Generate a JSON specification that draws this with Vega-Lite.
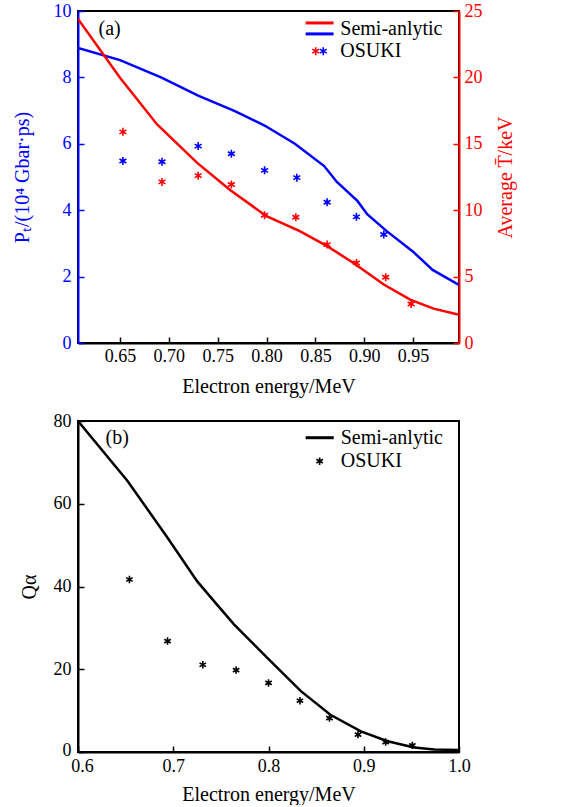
{
  "$schema": "https://vega.github.io/schema/vega-lite/v6.json",
  "padding": {"left": 11, "top": 1, "right": 5, "bottom": 0},
  "config": {
    "font": "Liberation Serif",
    "view": {"stroke": "black", "strokeWidth": 2},
    "axis": {"grid": false, "labelFlush": false, "labelFontSize": 18, "titleFontSize": 20, "titleFontWeight": "normal", "labelColor": "black", "titleColor": "black", "domainColor": "black", "domainWidth": 2, "tickColor": "black", "tickWidth": 1.5, "tickSize": -6, "labelFont": "Liberation Serif", "titleFont": "Liberation Serif"},
    "text": {"font": "Liberation Serif", "fontSize": 20}
  },
  "datasets": {
    "pt_line": [{"e":0.607,"v":8.89},{"e":0.65,"v":8.52},{"e":0.692,"v":8.0},{"e":0.73,"v":7.45},{"e":0.767,"v":6.99},{"e":0.798,"v":6.55},{"e":0.829,"v":6.0},{"e":0.859,"v":5.33},{"e":0.872,"v":4.85},{"e":0.893,"v":4.28},{"e":0.903,"v":3.88},{"e":0.923,"v":3.37},{"e":0.95,"v":2.75},{"e":0.97,"v":2.2},{"e":0.997,"v":1.75}],
    "pt_sim": [{"e":0.653,"v":5.48},{"e":0.693,"v":5.46},{"e":0.73,"v":5.93},{"e":0.764,"v":5.7},{"e":0.798,"v":5.2},{"e":0.831,"v":4.98},{"e":0.862,"v":4.24},{"e":0.892,"v":3.8},{"e":0.92,"v":3.27}],
    "t_line": [{"e":0.607,"v":24.4},{"e":0.65,"v":19.97},{"e":0.688,"v":16.46},{"e":0.729,"v":13.56},{"e":0.763,"v":11.5},{"e":0.8,"v":9.55},{"e":0.834,"v":8.42},{"e":0.862,"v":7.29},{"e":0.889,"v":6.03},{"e":0.92,"v":4.4},{"e":0.947,"v":3.27},{"e":0.971,"v":2.59},{"e":0.996,"v":2.14}],
    "t_sim": [{"e":0.653,"v":15.9},{"e":0.693,"v":12.13},{"e":0.73,"v":12.6},{"e":0.764,"v":11.94},{"e":0.798,"v":9.62},{"e":0.83,"v":9.47},{"e":0.862,"v":7.41},{"e":0.892,"v":6.03},{"e":0.922,"v":4.95},{"e":0.948,"v":2.94}],
    "q_line": [{"e":0.6,"v":80},{"e":0.652,"v":65.5},{"e":0.694,"v":51.8},{"e":0.725,"v":41.3},{"e":0.743,"v":36.4},{"e":0.764,"v":30.8},{"e":0.799,"v":22.7},{"e":0.834,"v":14.7},{"e":0.865,"v":9.0},{"e":0.897,"v":5.0},{"e":0.925,"v":2.6},{"e":0.953,"v":1.1},{"e":0.974,"v":0.6},{"e":1.0,"v":0.5}],
    "q_sim": [{"e":0.654,"v":41.7},{"e":0.694,"v":26.8},{"e":0.731,"v":21.1},{"e":0.766,"v":19.8},{"e":0.8,"v":16.7},{"e":0.833,"v":12.4},{"e":0.864,"v":8.2},{"e":0.894,"v":4.2},{"e":0.923,"v":2.4},{"e":0.951,"v":1.6}],
    "a_leg_red": [{"e":0.84,"e2":0.8686,"v":9.64}],
    "a_leg_blue": [{"e":0.84,"e2":0.8686,"v":9.31}],
    "a_star_red": [{"e":0.8503,"v":8.79}],
    "a_star_blue": [{"e":0.858,"v":8.79}],
    "a_text": [{"e":0.8755,"v":9.47,"t":"Semi-anlytic"},{"e":0.8755,"v":8.79,"t":"OSUKI"},{"e":0.628,"v":9.46,"t":"(a)"}],
    "b_leg": [{"e":0.839,"e2":0.8685,"v":75.96}],
    "b_star": [{"e":0.8537,"v":70.3}],
    "b_text": [{"e":0.8758,"v":75.96,"t":"Semi-anlytic"},{"e":0.8758,"v":70.3,"t":"OSUKI"},{"e":0.629,"v":75.8,"t":"(b)"}]
  },
  "spacing": 78,
  "bounds": "flush",
  "vconcat": [
    {
      "width": 381,
      "height": 332,
      "encoding": {
        "x": {"field": "e", "type": "quantitative", "scale": {"domain": [0.607, 0.997], "nice": false, "zero": false},
              "axis": {"values": [0.65, 0.7, 0.75, 0.8, 0.85, 0.9, 0.95], "format": ".2f", "title": "Electron energy/MeV", "labelPadding": 10, "titlePadding": 11}}
      },
      "layer": [
        {
          "encoding": {
            "y": {"field": "v", "type": "quantitative", "scale": {"domain": [0, 10], "nice": false},
                  "axis": {"orient": "left", "values": [0, 2, 4, 6, 8, 10], "title": "Pₜ/(10⁴ Gbar·ps)", "labelColor": "#0000ff", "titleColor": "#0000ff", "domainColor": "#0000ff", "tickColor": "#0000ff", "labelPadding": 13, "titlePadding": 21}}
          },
          "layer": [
            {"data": {"name": "pt_line"}, "mark": {"type": "line", "color": "#0000ff", "strokeWidth": 2.5, "clip": true}},
            {"data": {"name": "pt_sim"}, "mark": {"type": "point", "shape": "M0,-1L0,1M-0.866,-0.5L0.866,0.5M-0.866,0.5L0.866,-0.5", "filled": false, "size": 64, "strokeWidth": 1.6, "color": "#0000ff", "opacity": 1}},
            {"data": {"name": "a_leg_red"}, "mark": {"type": "rule", "color": "#ff0000", "strokeWidth": 3}, "encoding": {"x2": {"field": "e2"}}},
            {"data": {"name": "a_leg_blue"}, "mark": {"type": "rule", "color": "#0000ff", "strokeWidth": 3}, "encoding": {"x2": {"field": "e2"}}},
            {"data": {"name": "a_star_red"}, "mark": {"type": "point", "shape": "M0,-1L0,1M-0.866,-0.5L0.866,0.5M-0.866,0.5L0.866,-0.5", "filled": false, "size": 64, "strokeWidth": 1.6, "color": "#ff0000", "opacity": 1}},
            {"data": {"name": "a_star_blue"}, "mark": {"type": "point", "shape": "M0,-1L0,1M-0.866,-0.5L0.866,0.5M-0.866,0.5L0.866,-0.5", "filled": false, "size": 64, "strokeWidth": 1.6, "color": "#0000ff", "opacity": 1}},
            {"data": {"name": "a_text"}, "mark": {"type": "text", "align": "left", "baseline": "middle", "fontSize": 20, "color": "black"}, "encoding": {"text": {"field": "t"}}}
          ]
        },
        {
          "encoding": {
            "y": {"field": "v", "type": "quantitative", "scale": {"domain": [0, 25], "nice": false},
                  "axis": {"orient": "right", "values": [0, 5, 10, 15, 20, 25], "title": "Average T̄/keV", "titleAngle": 270, "titleBaseline": "top", "labelColor": "#ff0000", "titleColor": "#ff0000", "domainColor": "#ff0000", "tickColor": "#ff0000", "labelPadding": 11, "titlePadding": 13}}
          },
          "layer": [
            {"data": {"name": "t_line"}, "mark": {"type": "line", "color": "#ff0000", "strokeWidth": 2.5, "clip": true}},
            {"data": {"name": "t_sim"}, "mark": {"type": "point", "shape": "M0,-1L0,1M-0.866,-0.5L0.866,0.5M-0.866,0.5L0.866,-0.5", "filled": false, "size": 64, "strokeWidth": 1.6, "color": "#ff0000", "opacity": 1}}
          ]
        }
      ],
      "resolve": {"scale": {"y": "independent"}}
    },
    {
      "width": 381,
      "height": 331,
      "encoding": {
        "x": {"field": "e", "type": "quantitative", "scale": {"domain": [0.6, 1.0], "nice": false, "zero": false},
              "axis": {"values": [0.6, 0.7, 0.8, 0.9, 1.0], "format": ".1f", "title": "Electron energy/MeV", "labelPadding": 11, "titlePadding": 9,
                       "labelOffset": {"condition": {"test": "datum.value === 0.6", "value": 4}, "value": 0}}},
        "y": {"field": "v", "type": "quantitative", "scale": {"domain": [0, 80], "nice": false},
              "axis": {"values": [0, 20, 40, 60, 80], "title": "Qα", "labelPadding": 13, "titlePadding": 14,
                       "labelOffset": {"condition": {"test": "datum.value === 0", "value": -2}, "value": 0}}}
      },
      "layer": [
        {"data": {"name": "q_line"}, "mark": {"type": "line", "color": "black", "strokeWidth": 2.5, "clip": true}},
        {"data": {"name": "q_sim"}, "mark": {"type": "point", "shape": "M0,-1L0,1M-0.866,-0.5L0.866,0.5M-0.866,0.5L0.866,-0.5", "filled": false, "size": 56, "strokeWidth": 1.6, "color": "black", "opacity": 1}},
        {"data": {"name": "b_leg"}, "mark": {"type": "rule", "color": "black", "strokeWidth": 3}, "encoding": {"x2": {"field": "e2"}}},
        {"data": {"name": "b_star"}, "mark": {"type": "point", "shape": "M0,-1L0,1M-0.866,-0.5L0.866,0.5M-0.866,0.5L0.866,-0.5", "filled": false, "size": 56, "strokeWidth": 1.6, "color": "black", "opacity": 1}},
        {"data": {"name": "b_text"}, "mark": {"type": "text", "align": "left", "baseline": "middle", "fontSize": 20, "color": "black"}, "encoding": {"text": {"field": "t"}}}
      ]
    }
  ]
}
